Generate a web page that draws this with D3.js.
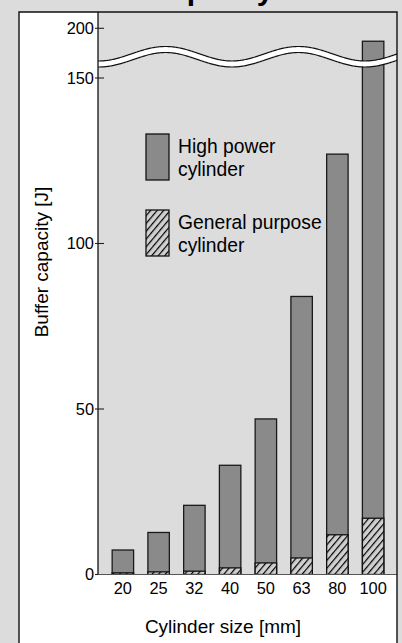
<!DOCTYPE html>
<html>
<head>
<meta charset="utf-8">
<script src="https://cdn.jsdelivr.net/npm/d3@7"></script>
<style>
html,body{margin:0;padding:0;background:#dcdcdc;}
svg{display:block;font-family:"Liberation Sans",Arial,Helvetica,sans-serif;}
</style>
</head>
<body>
<svg id="chart" width="402" height="643"></svg>
<script>
const categories = ["20", "25", "32", "40", "50", "63", "80", "100"];
const highPower = [7.4, 12.7, 20.9, 33, 47, 84, 127, 187];
const generalPurpose = [0.5, 0.8, 1.0, 2.0, 3.5, 5.0, 12.0, 17.0];
const yTicks = [0, 50, 100, 150, 200];
const legendLabels = [["High power", "cylinder"], ["General purpose", "cylinder"]];
const titleText = "Buffer capacity";
const xTitle = "Cylinder size [mm]";
const yTitle = "Buffer capacity [J]";

const svg = d3.select("#chart");
const W = 402, H = 643;
const frame = {l: 19, t: 12, r: 397};
const plot = {l: 98, t: 12, r: 397, b: 574.5};

const x = d3.scaleBand().domain(categories).range([105, 391]).paddingInner(0.4).paddingOuter(0.2);
const y = d3.scaleLinear().domain([0, 150, 200]).range([plot.b, 78, 28.3]);

// defs
const defs = svg.append("defs");
const pat = defs.append("pattern").attr("id", "hatch").attr("patternUnits", "userSpaceOnUse")
  .attr("width", 5).attr("height", 5).attr("patternTransform", "rotate(40)");
pat.append("rect").attr("width", 5).attr("height", 5).attr("fill", "#d0d0d0");
pat.append("line").attr("x1", 0.6).attr("y1", 0).attr("x2", 0.6).attr("y2", 5).attr("stroke", "#000").attr("stroke-width", 1.2);
defs.append("clipPath").attr("id", "plotclip").append("rect")
  .attr("x", plot.l).attr("y", plot.t).attr("width", plot.r - plot.l).attr("height", plot.b - plot.t);

// title (cut off at top of the picture)
svg.append("text").attr("x", 165).attr("y", -0.5).attr("text-anchor", "middle")
  .attr("font-weight", "bold").attr("font-size", 30).attr("fill", "#000").text(titleText);

// frame background
svg.append("rect").attr("x", frame.l).attr("y", frame.t).attr("width", frame.r - frame.l).attr("height", H + 10)
  .attr("fill", "#fff");
svg.append("rect").attr("x", plot.l).attr("y", plot.t).attr("width", plot.r - plot.l).attr("height", plot.b - plot.t)
  .attr("fill", "#dcdcdc");

// bars
const g = svg.append("g").attr("clip-path", "url(#plotclip)");
g.selectAll("rect.hp").data(categories).join("rect").attr("class", "hp")
  .attr("x", d => x(d)).attr("width", x.bandwidth())
  .attr("y", (d, i) => y(highPower[i])).attr("height", (d, i) => y(0) - y(highPower[i]))
  .attr("fill", "#8a8a8a").attr("stroke", "#1a1a1a").attr("stroke-width", 1.3);
g.selectAll("rect.gp").data(categories).join("rect").attr("class", "gp")
  .attr("x", d => x(d)).attr("width", x.bandwidth())
  .attr("y", (d, i) => y(generalPurpose[i])).attr("height", (d, i) => y(0) - y(generalPurpose[i]))
  .attr("fill", "url(#hatch)").attr("stroke", "#111").attr("stroke-width", 1.3);

// axis break wave
const pts = d3.range(plot.l - 2, plot.r + 3, 1).map(px => [px, 56.75 + 7.25 * Math.cos(2 * Math.PI * (px - 232) / 133)]);
const line = d3.line();
g.append("path").attr("d", line(pts)).attr("fill", "none").attr("stroke", "#111").attr("stroke-width", 7.2);
g.append("path").attr("d", line(pts)).attr("fill", "none").attr("stroke", "#fff").attr("stroke-width", 4.8);

// x axis line
svg.append("line").attr("x1", plot.l).attr("x2", plot.r).attr("y1", y(0)).attr("y2", y(0))
  .attr("stroke", "#555").attr("stroke-width", 1.2);

// y axis border
svg.append("line").attr("x1", plot.l).attr("x2", plot.l).attr("y1", plot.t).attr("y2", plot.b)
  .attr("stroke", "#111").attr("stroke-width", 1.3);

// y ticks
const yt = svg.append("g");
yt.selectAll("line").data(yTicks).join("line")
  .attr("x1", 95).attr("x2", d => d === 0 ? plot.l : 104).attr("y1", d => y(d)).attr("y2", d => y(d))
  .attr("stroke", "#222").attr("stroke-width", 1.1);
yt.selectAll("text").data(yTicks).join("text")
  .attr("x", 94).attr("y", d => y(d)).attr("dy", "0.36em").attr("text-anchor", "end")
  .attr("font-size", 16.4).attr("fill", "#000").text(d => d);

// x tick labels
svg.append("g").selectAll("text").data(categories).join("text")
  .attr("x", d => x(d) + x.bandwidth() / 2).attr("y", 594.3).attr("text-anchor", "middle")
  .attr("font-size", 16.4).attr("fill", "#000").text(d => d);

// axis titles
svg.append("text").attr("x", 223).attr("y", 633.3).attr("text-anchor", "middle")
  .attr("font-size", 19).attr("fill", "#000").text(xTitle);
svg.append("text").attr("transform", "translate(48,262) rotate(-90)").attr("text-anchor", "middle")
  .attr("font-size", 19).attr("fill", "#000").text(yTitle);

// legend
const legFills = ["#8a8a8a", "url(#hatch)"];
const legY = [134, 210];
const lg = svg.append("g");
legendLabels.forEach((lab, i) => {
  lg.append("rect").attr("x", 146).attr("y", legY[i]).attr("width", 23).attr("height", 46)
    .attr("fill", legFills[i]).attr("stroke", "#111").attr("stroke-width", 1.3);
  lab.forEach((t, j) => {
    lg.append("text").attr("x", 178).attr("y", legY[i] + 19.3 + j * 22.5)
      .attr("font-size", 19.3).attr("fill", "#000").text(t);
  });
});

// frame border
svg.append("path").attr("d", `M${frame.l},${H + 5}V${frame.t}H${frame.r}V${H + 5}`)
  .attr("fill", "none").attr("stroke", "#111").attr("stroke-width", 1.4);
</script>
</body>
</html>
